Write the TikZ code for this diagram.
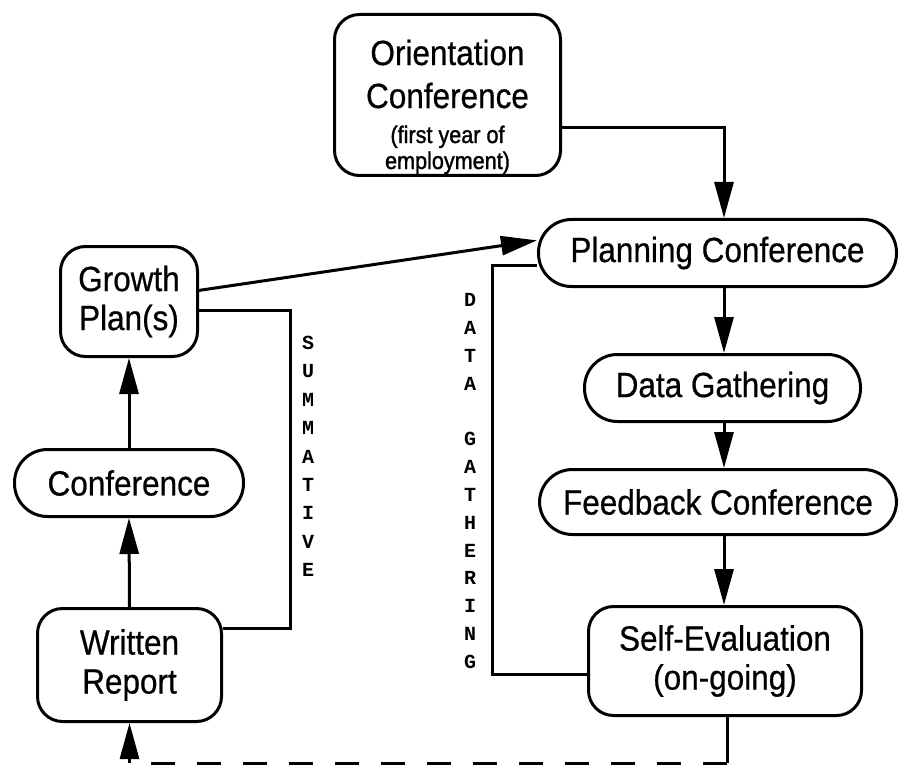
\documentclass[tikz,border=0pt]{standalone}
\usepackage{fontspec}
\setmainfont{Liberation Sans}[FakeStretch=0.9, FakeBold=0.6]
\newfontfamily\smallnote{Liberation Sans}[FakeStretch=0.9, FakeBold=1.4]
\newfontfamily\lettermono{Liberation Mono}
\usetikzlibrary{arrows.meta}

\begin{document}
\begin{tikzpicture}[x=1pt,y=-1pt,
  box/.style={draw, line width=3pt, rounded corners=25pt, inner sep=0pt,
    align=center, font=\fontsize{35}{39}\selectfont},
  pill/.style={box, rounded corners=33pt},
  link/.style={line width=3pt},
  flow/.style={link, -{Triangle[length=36pt,width=19pt]}},
  vlabel/.style={align=center, inner sep=0pt,
    font=\lettermono\bfseries\fontsize{20}{28.4}\selectfont}]

\useasboundingbox (0,0) rectangle (901,767);

% boxes
\node[box, minimum width=226pt, minimum height=161pt,
  font=\fontsize{35}{43}\selectfont] (orient) at (447.5,95)
  {\rule{0pt}{49pt}Orientation\\Conference\\[-8pt]%
   {\smallnote\fontsize{24}{28}\selectfont (first year of}\\[-17pt]%
   {\smallnote\fontsize{24}{28}\selectfont employment)}};
\node[pill, minimum width=358pt, minimum height=67pt] (plan) at (717.5,253) {Planning Conference};
\node[pill, minimum width=276pt, minimum height=67pt] (dg) at (722.5,388) {Data Gathering};
\node[pill, minimum width=357pt, minimum height=65pt] (fb) at (718,502) {Feedback Conference};
\node[box, minimum width=273pt, minimum height=109pt] (self) at (725,661) {Self-Evaluation\\(on-going)};
\node[box, minimum width=137pt, minimum height=110pt] (growth) at (129,301.5) {Growth\\Plan(s)};
\node[pill, minimum width=229pt, minimum height=67pt] (conf) at (129,483) {Conference};
\node[box, minimum width=184pt, minimum height=113pt] (wr) at (129.5,665) {Written\\Report};

% vertical side labels
\node[vlabel] (summ) at (308,456.5) {S\\U\\M\\M\\A\\T\\I\\V\\E};
\node[vlabel, font=\lettermono\bfseries\fontsize{20}{27.85}\selectfont] (dgat) at (470,481)
  {D\\A\\T\\A\\~\\G\\A\\T\\H\\E\\R\\I\\N\\G};

% helper points
\coordinate (col) at (724,0);
\coordinate (dgL) at (492,265);
\coordinate (smR) at (290,310);
\coordinate (fbR) at (727,763);
\coordinate (fbL) at (129.5,763);

% main cycle
\draw[flow] (orient.east |- 0,128) -| (plan.north -| col);
\draw[flow] (growth.9) -- (plan.176);
\draw[flow] (plan.south -| col) -- (dg.north -| col);
\draw[flow] (dg.south -| col) -- (fb.north -| col);
\draw[flow] (fb.south -| col) -- (self.north -| col);

% data gathering loop
\draw[link] (self.west |- 0,674) -| (dgL) -- (plan.west |- dgL);

% summative loop
\draw[link] (wr.east |- 0,628) -| (smR) -- (growth.east |- smR);

% left column
\draw[flow] (conf.north) -- (growth.south);
\draw[flow] (wr.north) -- (conf.south);

% return path from self-evaluation
\draw[link] (self.south -| fbR) -- (fbR);
\draw[link, dash pattern=on 24pt off 22pt] (fbR) -- (fbL);
\draw[flow] (fbL) -- (wr.south);
\end{tikzpicture}
\end{document}
